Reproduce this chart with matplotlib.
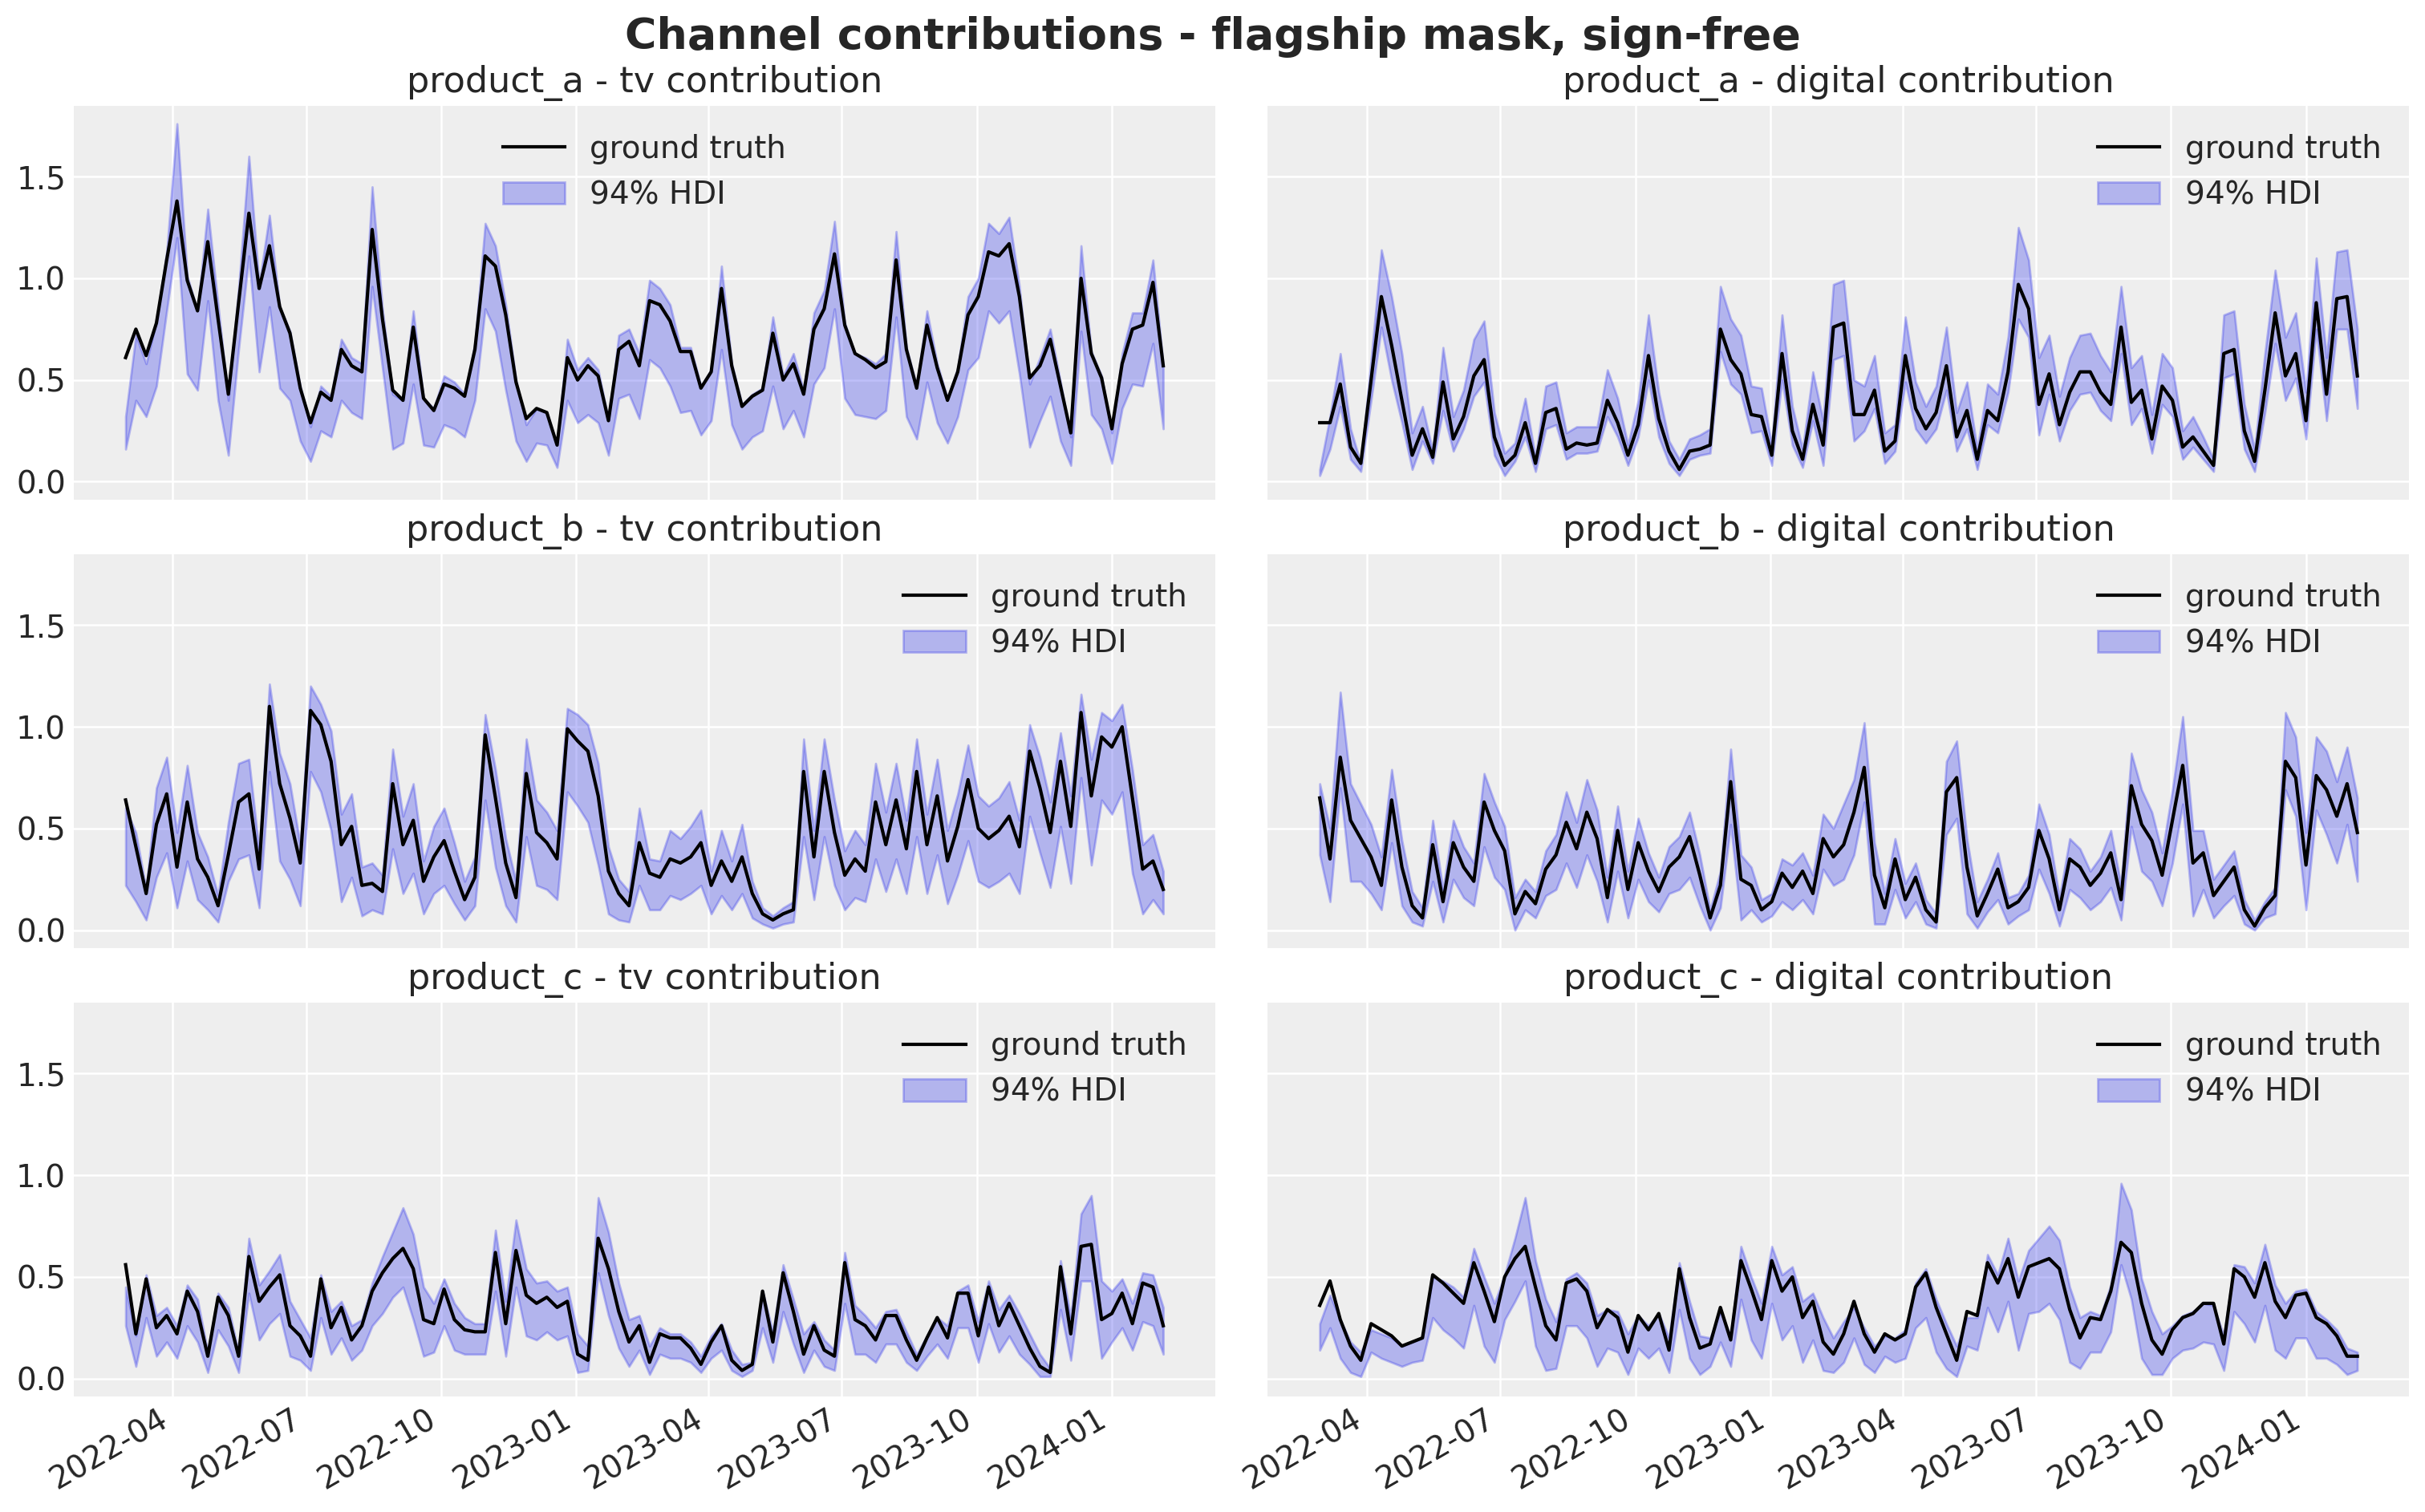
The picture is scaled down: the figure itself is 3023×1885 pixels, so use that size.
import numpy as np
import pandas as pd
import matplotlib
matplotlib.use("Agg")
import matplotlib.pyplot as plt
import matplotlib.dates as mdates

# weekly dates
dates = pd.date_range("2022-02-28", periods=102, freq="7D")

products = ["product_a", "product_b", "product_c"]
channels = ["tv", "digital"]

a_tv_truth = [0.61, 0.75, 0.62, 0.78, 1.09, 1.38, 0.99, 0.84, 1.18, 0.80,
              0.43, 0.88, 1.32, 0.95, 1.16, 0.86, 0.73, 0.46, 0.29, 0.44,
              0.40, 0.65, 0.57, 0.54, 1.24, 0.80, 0.45, 0.40, 0.76, 0.41,
              0.35, 0.48, 0.46, 0.42, 0.65, 1.11, 1.06, 0.82, 0.49, 0.31,
              0.36, 0.34, 0.18, 0.61, 0.50, 0.57, 0.52, 0.30, 0.65, 0.69,
              0.57, 0.89, 0.87, 0.79, 0.64, 0.64, 0.46, 0.54, 0.95, 0.57,
              0.37, 0.42, 0.45, 0.73, 0.50, 0.58, 0.43, 0.75, 0.85, 1.12,
              0.77, 0.63, 0.60, 0.56, 0.59, 1.09, 0.65, 0.46, 0.77, 0.56,
              0.40, 0.54, 0.82, 0.91, 1.13, 1.11, 1.17, 0.91, 0.51, 0.57,
              0.70, 0.47, 0.24, 1.00, 0.63, 0.51, 0.26, 0.58, 0.75, 0.77,
              0.98, 0.57]
a_tv_high = [0.32, 0.72, 0.58, 0.79, 1.13, 1.76, 1.01, 0.84, 1.34, 0.87,
             0.40, 0.95, 1.60, 0.97, 1.31, 0.86, 0.74, 0.47, 0.27, 0.47,
             0.42, 0.70, 0.61, 0.58, 1.45, 0.85, 0.43, 0.40, 0.84, 0.41,
             0.36, 0.52, 0.49, 0.43, 0.68, 1.27, 1.16, 0.87, 0.50, 0.28,
             0.36, 0.34, 0.18, 0.70, 0.55, 0.61, 0.55, 0.30, 0.72, 0.75,
             0.63, 0.99, 0.95, 0.87, 0.66, 0.66, 0.47, 0.55, 1.06, 0.58,
             0.38, 0.43, 0.46, 0.81, 0.52, 0.63, 0.45, 0.83, 0.94, 1.28,
             0.78, 0.63, 0.61, 0.58, 0.63, 1.23, 0.66, 0.47, 0.84, 0.58,
             0.41, 0.56, 0.91, 1.00, 1.27, 1.22, 1.30, 0.96, 0.48, 0.61,
             0.75, 0.49, 0.22, 1.16, 0.64, 0.52, 0.24, 0.63, 0.83, 0.83,
             1.09, 0.57]
a_tv_low = [0.16, 0.40, 0.32, 0.47, 0.84, 1.20, 0.53, 0.45, 0.89, 0.40,
            0.13, 0.65, 1.11, 0.54, 0.86, 0.46, 0.40, 0.20, 0.10, 0.25,
            0.22, 0.40, 0.34, 0.31, 0.96, 0.56, 0.16, 0.19, 0.48, 0.18,
            0.17, 0.28, 0.26, 0.22, 0.40, 0.85, 0.74, 0.45, 0.20, 0.10,
            0.19, 0.18, 0.07, 0.40, 0.29, 0.33, 0.29, 0.13, 0.41, 0.43,
            0.31, 0.60, 0.56, 0.47, 0.34, 0.35, 0.23, 0.30, 0.65, 0.28,
            0.16, 0.22, 0.25, 0.47, 0.26, 0.35, 0.22, 0.48, 0.56, 0.85,
            0.41, 0.33, 0.32, 0.31, 0.35, 0.81, 0.32, 0.21, 0.49, 0.29,
            0.19, 0.32, 0.55, 0.61, 0.84, 0.78, 0.84, 0.53, 0.17, 0.30,
            0.42, 0.20, 0.08, 0.74, 0.33, 0.26, 0.09, 0.36, 0.48, 0.47,
            0.68, 0.26]

a_dig_truth = [0.29, 0.29, 0.48, 0.17, 0.09, 0.50, 0.91, 0.67, 0.40, 0.13,
               0.26, 0.12, 0.49, 0.21, 0.32, 0.52, 0.60, 0.22, 0.08, 0.13,
               0.29, 0.09, 0.34, 0.36, 0.16, 0.19, 0.18, 0.19, 0.40, 0.29,
               0.13, 0.28, 0.62, 0.31, 0.15, 0.06, 0.15, 0.16, 0.18, 0.75,
               0.60, 0.53, 0.33, 0.32, 0.13, 0.63, 0.25, 0.11, 0.38, 0.18,
               0.76, 0.78, 0.33, 0.33, 0.45, 0.15, 0.20, 0.62, 0.36, 0.26,
               0.34, 0.57, 0.22, 0.35, 0.11, 0.35, 0.30, 0.54, 0.97, 0.85,
               0.38, 0.53, 0.28, 0.44, 0.54, 0.54, 0.44, 0.38, 0.76, 0.39,
               0.45, 0.21, 0.47, 0.40, 0.17, 0.22, 0.15, 0.08, 0.63, 0.65,
               0.25, 0.10, 0.45, 0.83, 0.52, 0.63, 0.30, 0.88, 0.43, 0.90,
               0.91, 0.52]
a_dig_high = [0.06, 0.32, 0.63, 0.26, 0.09, 0.60, 1.14, 0.91, 0.63, 0.24,
              0.37, 0.15, 0.66, 0.32, 0.45, 0.70, 0.79, 0.34, 0.14, 0.19,
              0.41, 0.12, 0.47, 0.49, 0.24, 0.27, 0.27, 0.27, 0.55, 0.41,
              0.18, 0.40, 0.82, 0.44, 0.20, 0.11, 0.21, 0.23, 0.26, 0.96,
              0.80, 0.72, 0.47, 0.46, 0.18, 0.82, 0.37, 0.16, 0.54, 0.30,
              0.97, 0.99, 0.50, 0.47, 0.62, 0.24, 0.28, 0.81, 0.49, 0.37,
              0.47, 0.76, 0.34, 0.49, 0.16, 0.48, 0.43, 0.71, 1.25, 1.09,
              0.61, 0.72, 0.42, 0.61, 0.72, 0.73, 0.62, 0.54, 0.96, 0.56,
              0.62, 0.33, 0.63, 0.56, 0.25, 0.32, 0.22, 0.11, 0.82, 0.84,
              0.38, 0.16, 0.63, 1.04, 0.71, 0.83, 0.44, 1.10, 0.61, 1.13,
              1.14, 0.75]
a_dig_low = [0.03, 0.16, 0.37, 0.11, 0.05, 0.40, 0.76, 0.50, 0.29, 0.06,
             0.20, 0.09, 0.35, 0.15, 0.26, 0.42, 0.49, 0.13, 0.03, 0.10,
             0.22, 0.05, 0.26, 0.28, 0.11, 0.14, 0.14, 0.15, 0.32, 0.22,
             0.08, 0.22, 0.50, 0.22, 0.09, 0.03, 0.11, 0.13, 0.14, 0.64,
             0.48, 0.43, 0.24, 0.25, 0.08, 0.50, 0.18, 0.07, 0.30, 0.08,
             0.60, 0.62, 0.20, 0.25, 0.36, 0.09, 0.15, 0.49, 0.26, 0.19,
             0.26, 0.45, 0.15, 0.26, 0.06, 0.28, 0.24, 0.44, 0.80, 0.71,
             0.23, 0.43, 0.20, 0.35, 0.43, 0.44, 0.35, 0.30, 0.63, 0.28,
             0.36, 0.14, 0.38, 0.32, 0.11, 0.17, 0.11, 0.05, 0.51, 0.53,
             0.16, 0.05, 0.34, 0.68, 0.40, 0.51, 0.21, 0.75, 0.30, 0.75,
             0.75, 0.36]

b_tv_truth = [0.64, 0.41, 0.18, 0.52, 0.67, 0.31, 0.63, 0.35, 0.26, 0.12,
              0.37, 0.63, 0.67, 0.30, 1.10, 0.72, 0.55, 0.33, 1.08, 1.01,
              0.83, 0.42, 0.51, 0.22, 0.23, 0.19, 0.72, 0.42, 0.54, 0.24,
              0.36, 0.44, 0.29, 0.15, 0.26, 0.96, 0.65, 0.33, 0.16, 0.77,
              0.48, 0.43, 0.35, 0.99, 0.93, 0.88, 0.66, 0.29, 0.18, 0.12,
              0.43, 0.28, 0.26, 0.35, 0.33, 0.36, 0.43, 0.22, 0.34, 0.24,
              0.36, 0.18, 0.08, 0.05, 0.08, 0.10, 0.78, 0.36, 0.78, 0.48,
              0.27, 0.35, 0.29, 0.63, 0.42, 0.64, 0.40, 0.78, 0.42, 0.66,
              0.34, 0.51, 0.74, 0.50, 0.45, 0.49, 0.56, 0.41, 0.88, 0.70,
              0.48, 0.83, 0.51, 1.07, 0.66, 0.95, 0.90, 1.00, 0.65, 0.30,
              0.34, 0.20]
b_tv_high = [0.60, 0.48, 0.20, 0.70, 0.85, 0.48, 0.81, 0.48, 0.36, 0.17,
             0.53, 0.82, 0.84, 0.39, 1.21, 0.87, 0.72, 0.42, 1.20, 1.11,
             0.98, 0.57, 0.67, 0.31, 0.33, 0.27, 0.89, 0.56, 0.72, 0.34,
             0.51, 0.60, 0.43, 0.24, 0.36, 1.06, 0.79, 0.45, 0.24, 0.94,
             0.64, 0.58, 0.49, 1.09, 1.06, 1.01, 0.82, 0.41, 0.25, 0.19,
             0.60, 0.35, 0.34, 0.49, 0.45, 0.51, 0.59, 0.29, 0.49, 0.34,
             0.52, 0.24, 0.11, 0.07, 0.11, 0.14, 0.94, 0.49, 0.94, 0.64,
             0.39, 0.49, 0.42, 0.82, 0.58, 0.82, 0.54, 0.94, 0.57, 0.84,
             0.49, 0.67, 0.91, 0.66, 0.61, 0.65, 0.73, 0.54, 1.01, 0.85,
             0.63, 0.97, 0.66, 1.16, 0.84, 1.07, 1.03, 1.11, 0.79, 0.42,
             0.47, 0.29]
b_tv_low = [0.22, 0.14, 0.05, 0.26, 0.38, 0.11, 0.34, 0.15, 0.10, 0.04,
            0.24, 0.35, 0.37, 0.11, 0.78, 0.34, 0.25, 0.12, 0.78, 0.68,
            0.49, 0.14, 0.26, 0.07, 0.10, 0.08, 0.40, 0.18, 0.28, 0.08,
            0.18, 0.22, 0.13, 0.05, 0.12, 0.64, 0.31, 0.12, 0.04, 0.46,
            0.22, 0.20, 0.15, 0.68, 0.61, 0.53, 0.32, 0.08, 0.05, 0.04,
            0.22, 0.10, 0.10, 0.17, 0.15, 0.18, 0.22, 0.08, 0.17, 0.10,
            0.18, 0.06, 0.03, 0.01, 0.03, 0.04, 0.46, 0.15, 0.46, 0.22,
            0.10, 0.16, 0.14, 0.35, 0.19, 0.35, 0.18, 0.46, 0.18, 0.37,
            0.13, 0.27, 0.44, 0.24, 0.21, 0.24, 0.28, 0.18, 0.56, 0.38,
            0.21, 0.51, 0.23, 0.75, 0.32, 0.64, 0.57, 0.68, 0.28, 0.08,
            0.15, 0.08]

b_dig_truth = [0.65, 0.35, 0.85, 0.54, 0.45, 0.36, 0.22, 0.64, 0.31, 0.12,
               0.06, 0.42, 0.14, 0.43, 0.31, 0.24, 0.63, 0.49, 0.39, 0.08,
               0.19, 0.13, 0.30, 0.37, 0.53, 0.40, 0.58, 0.45, 0.16, 0.49,
               0.20, 0.43, 0.29, 0.19, 0.31, 0.36, 0.46, 0.27, 0.06, 0.22,
               0.73, 0.25, 0.22, 0.10, 0.14, 0.28, 0.21, 0.29, 0.18, 0.45,
               0.36, 0.42, 0.58, 0.80, 0.27, 0.11, 0.35, 0.15, 0.26, 0.10,
               0.04, 0.68, 0.75, 0.31, 0.07, 0.18, 0.30, 0.11, 0.14, 0.21,
               0.49, 0.35, 0.10, 0.35, 0.31, 0.22, 0.28, 0.38, 0.15, 0.71,
               0.52, 0.44, 0.27, 0.54, 0.81, 0.33, 0.38, 0.17, 0.24, 0.31,
               0.10, 0.02, 0.11, 0.17, 0.83, 0.75, 0.32, 0.76, 0.69, 0.56,
               0.72, 0.48]
b_dig_high = [0.72, 0.50, 1.17, 0.72, 0.62, 0.52, 0.36, 0.79, 0.44, 0.19,
              0.11, 0.54, 0.20, 0.54, 0.41, 0.33, 0.77, 0.63, 0.51, 0.16,
              0.25, 0.19, 0.39, 0.47, 0.68, 0.53, 0.74, 0.59, 0.26, 0.61,
              0.29, 0.55, 0.38, 0.26, 0.41, 0.46, 0.58, 0.37, 0.10, 0.29,
              0.89, 0.37, 0.31, 0.15, 0.18, 0.35, 0.32, 0.38, 0.27, 0.57,
              0.50, 0.62, 0.74, 1.02, 0.43, 0.18, 0.45, 0.23, 0.33, 0.15,
              0.08, 0.83, 0.93, 0.45, 0.14, 0.25, 0.38, 0.16, 0.18, 0.27,
              0.62, 0.47, 0.16, 0.45, 0.40, 0.29, 0.36, 0.49, 0.22, 0.87,
              0.69, 0.58, 0.38, 0.69, 1.05, 0.49, 0.49, 0.25, 0.32, 0.39,
              0.15, 0.05, 0.14, 0.21, 1.07, 0.95, 0.48, 0.95, 0.88, 0.73,
              0.90, 0.65]
b_dig_low = [0.37, 0.14, 0.70, 0.24, 0.24, 0.18, 0.10, 0.43, 0.12, 0.04,
             0.02, 0.24, 0.04, 0.25, 0.16, 0.12, 0.41, 0.26, 0.20, 0.00,
             0.10, 0.06, 0.17, 0.20, 0.33, 0.21, 0.37, 0.24, 0.04, 0.29,
             0.06, 0.25, 0.14, 0.09, 0.18, 0.20, 0.26, 0.12, 0.00, 0.11,
             0.52, 0.05, 0.10, 0.04, 0.07, 0.14, 0.10, 0.15, 0.08, 0.30,
             0.22, 0.25, 0.37, 0.63, 0.03, 0.03, 0.20, 0.06, 0.14, 0.03,
             0.01, 0.47, 0.55, 0.08, 0.01, 0.09, 0.15, 0.03, 0.07, 0.10,
             0.30, 0.18, 0.02, 0.20, 0.16, 0.10, 0.14, 0.21, 0.05, 0.51,
             0.29, 0.24, 0.12, 0.33, 0.62, 0.07, 0.20, 0.06, 0.12, 0.17,
             0.03, 0.00, 0.06, 0.08, 0.69, 0.56, 0.10, 0.59, 0.47, 0.33,
             0.52, 0.24]

c_tv_truth = [0.56, 0.22, 0.49, 0.25, 0.31, 0.22, 0.43, 0.33, 0.11, 0.40,
              0.31, 0.11, 0.60, 0.38, 0.45, 0.51, 0.26, 0.21, 0.11, 0.49,
              0.25, 0.35, 0.19, 0.26, 0.43, 0.52, 0.59, 0.64, 0.54, 0.29,
              0.27, 0.44, 0.29, 0.24, 0.23, 0.23, 0.62, 0.27, 0.63, 0.41,
              0.37, 0.40, 0.35, 0.38, 0.12, 0.09, 0.69, 0.54, 0.33, 0.18,
              0.26, 0.08, 0.22, 0.20, 0.20, 0.15, 0.07, 0.18, 0.26, 0.09,
              0.04, 0.07, 0.43, 0.18, 0.52, 0.33, 0.12, 0.26, 0.14, 0.11,
              0.57, 0.29, 0.26, 0.19, 0.31, 0.31, 0.19, 0.09, 0.20, 0.30,
              0.20, 0.42, 0.42, 0.21, 0.45, 0.26, 0.37, 0.26, 0.15, 0.06,
              0.03, 0.55, 0.22, 0.65, 0.66, 0.29, 0.32, 0.42, 0.27, 0.47,
              0.45, 0.26]
c_tv_high = [0.45, 0.21, 0.51, 0.31, 0.35, 0.26, 0.46, 0.39, 0.13, 0.42,
             0.35, 0.13, 0.69, 0.46, 0.53, 0.61, 0.38, 0.29, 0.20, 0.51,
             0.33, 0.38, 0.26, 0.29, 0.47, 0.60, 0.72, 0.84, 0.71, 0.45,
             0.37, 0.49, 0.37, 0.30, 0.27, 0.27, 0.73, 0.38, 0.78, 0.54,
             0.47, 0.48, 0.43, 0.45, 0.22, 0.16, 0.89, 0.72, 0.47, 0.29,
             0.31, 0.16, 0.25, 0.22, 0.22, 0.18, 0.11, 0.21, 0.27, 0.14,
             0.07, 0.08, 0.43, 0.23, 0.56, 0.39, 0.22, 0.28, 0.19, 0.14,
             0.62, 0.36, 0.31, 0.25, 0.33, 0.34, 0.23, 0.12, 0.21, 0.30,
             0.26, 0.43, 0.46, 0.28, 0.48, 0.34, 0.41, 0.32, 0.22, 0.12,
             0.05, 0.58, 0.30, 0.81, 0.90, 0.48, 0.43, 0.49, 0.37, 0.52,
             0.51, 0.35]
c_tv_low = [0.26, 0.06, 0.30, 0.11, 0.18, 0.10, 0.26, 0.18, 0.03, 0.24,
            0.16, 0.03, 0.42, 0.19, 0.27, 0.32, 0.11, 0.09, 0.04, 0.30,
            0.12, 0.20, 0.09, 0.14, 0.26, 0.32, 0.40, 0.45, 0.29, 0.11,
            0.13, 0.26, 0.14, 0.12, 0.12, 0.12, 0.43, 0.11, 0.45, 0.21,
            0.19, 0.23, 0.19, 0.21, 0.03, 0.04, 0.52, 0.31, 0.15, 0.06,
            0.14, 0.02, 0.12, 0.10, 0.10, 0.08, 0.03, 0.10, 0.14, 0.04,
            0.01, 0.04, 0.25, 0.08, 0.33, 0.17, 0.03, 0.14, 0.06, 0.04,
            0.37, 0.12, 0.12, 0.08, 0.17, 0.17, 0.08, 0.04, 0.11, 0.17,
            0.10, 0.25, 0.25, 0.08, 0.27, 0.13, 0.21, 0.12, 0.07, 0.01,
            0.01, 0.34, 0.09, 0.48, 0.48, 0.10, 0.18, 0.25, 0.14, 0.28,
            0.26, 0.12]

c_dig_truth = [0.36, 0.48, 0.29, 0.16, 0.09, 0.27, 0.24, 0.21, 0.16, 0.18,
               0.20, 0.51, 0.47, 0.42, 0.37, 0.57, 0.43, 0.28, 0.50, 0.59,
               0.65, 0.45, 0.26, 0.19, 0.47, 0.49, 0.43, 0.25, 0.34, 0.30,
               0.13, 0.31, 0.24, 0.32, 0.14, 0.54, 0.30, 0.15, 0.17, 0.35,
               0.19, 0.58, 0.44, 0.29, 0.58, 0.43, 0.50, 0.30, 0.38, 0.18,
               0.12, 0.22, 0.38, 0.22, 0.13, 0.22, 0.19, 0.22, 0.45, 0.52,
               0.35, 0.22, 0.09, 0.33, 0.31, 0.57, 0.47, 0.59, 0.40, 0.55,
               0.57, 0.59, 0.54, 0.34, 0.20, 0.30, 0.29, 0.43, 0.67, 0.62,
               0.37, 0.19, 0.12, 0.24, 0.30, 0.32, 0.37, 0.37, 0.17, 0.54,
               0.50, 0.40, 0.57, 0.38, 0.30, 0.41, 0.42, 0.30, 0.27, 0.21,
               0.11, 0.11]
c_dig_high = [0.27, 0.41, 0.29, 0.18, 0.13, 0.24, 0.22, 0.20, 0.16, 0.18,
              0.20, 0.50, 0.48, 0.45, 0.40, 0.64, 0.50, 0.37, 0.51, 0.69,
              0.89, 0.58, 0.39, 0.28, 0.49, 0.52, 0.47, 0.31, 0.34, 0.33,
              0.22, 0.31, 0.26, 0.32, 0.20, 0.57, 0.38, 0.21, 0.20, 0.33,
              0.21, 0.65, 0.50, 0.37, 0.65, 0.51, 0.55, 0.38, 0.42, 0.30,
              0.20, 0.28, 0.35, 0.25, 0.16, 0.21, 0.20, 0.24, 0.47, 0.54,
              0.39, 0.27, 0.16, 0.30, 0.30, 0.61, 0.51, 0.69, 0.48, 0.63,
              0.69, 0.75, 0.68, 0.45, 0.30, 0.33, 0.31, 0.46, 0.96, 0.83,
              0.49, 0.33, 0.22, 0.26, 0.31, 0.33, 0.37, 0.36, 0.21, 0.56,
              0.55, 0.47, 0.66, 0.46, 0.37, 0.43, 0.44, 0.33, 0.29, 0.24,
              0.15, 0.13]
c_dig_low = [0.14, 0.25, 0.10, 0.03, 0.01, 0.13, 0.10, 0.08, 0.06, 0.08,
             0.09, 0.30, 0.24, 0.20, 0.15, 0.36, 0.16, 0.08, 0.29, 0.38,
             0.48, 0.16, 0.04, 0.05, 0.26, 0.26, 0.20, 0.06, 0.15, 0.13,
             0.02, 0.15, 0.10, 0.15, 0.03, 0.34, 0.10, 0.02, 0.06, 0.18,
             0.06, 0.39, 0.19, 0.10, 0.37, 0.19, 0.26, 0.08, 0.19, 0.04,
             0.03, 0.08, 0.20, 0.07, 0.03, 0.11, 0.08, 0.10, 0.25, 0.30,
             0.13, 0.05, 0.01, 0.16, 0.14, 0.35, 0.23, 0.38, 0.14, 0.32,
             0.33, 0.37, 0.29, 0.08, 0.05, 0.13, 0.13, 0.23, 0.56, 0.39,
             0.10, 0.02, 0.02, 0.10, 0.14, 0.15, 0.18, 0.17, 0.04, 0.33,
             0.27, 0.18, 0.36, 0.14, 0.10, 0.20, 0.20, 0.10, 0.10, 0.07,
             0.02, 0.04]

panels = [
    (a_tv_truth, a_tv_low, a_tv_high), (a_dig_truth, a_dig_low, a_dig_high),
    (b_tv_truth, b_tv_low, b_tv_high), (b_dig_truth, b_dig_low, b_dig_high),
    (c_tv_truth, c_tv_low, c_tv_high), (c_dig_truth, c_dig_low, c_dig_high),
]


def set_style():
    plt.rcParams.update({
        "font.family": ["DejaVu Sans"],
        "axes.facecolor": "#eeeeee",
        "axes.edgecolor": "white",
        "axes.linewidth": 0,
        "axes.grid": True,
        "grid.color": "white",
        "grid.linestyle": "-",
        "grid.linewidth": 0.9,
        "axes.axisbelow": True,
        "xtick.major.size": 0,
        "ytick.major.size": 0,
        "xtick.color": "0.15",
        "ytick.color": "0.15",
        "text.color": "0.15",
        "xtick.labelsize": 14,
        "ytick.labelsize": 14,
        "axes.titlesize": 16,
        "legend.fontsize": 14,
        "legend.frameon": False,
    })


def plot_graph():
    fig, axes = plt.subplots(3, 2, figsize=(15.115, 9.425), dpi=200,
                             sharex=True, sharey=True)
    for k, (truth, low, high) in enumerate(panels):
        ax = axes[k // 2, k % 2]
        prod = products[k // 2]
        chan = channels[k % 2]
        ax.plot(dates, truth, color="black", lw=1.5, label="ground truth")
        ax.fill_between(dates, low, high, color="#2a2eec", alpha=0.3,
                        label="94% HDI")
        ax.set_title(f"{prod} - {chan} contribution")
        ax.legend(loc="upper center" if k == 0 else "upper right")
        ax.xaxis.set_major_locator(mdates.MonthLocator(bymonth=[1, 4, 7, 10]))
        ax.xaxis.set_major_formatter(mdates.DateFormatter("%Y-%m"))
    fig.autofmt_xdate()
    fig.subplots_adjust(left=0.0304, right=0.9935, top=0.930, bottom=0.0764,
                        wspace=0.0462, hspace=0.139)
    fig.suptitle("Channel contributions - flagship mask, sign-free",
                 fontsize=19.4, fontweight="bold", y=0.9894, va="top")
    fig.savefig("out.png", dpi=200, facecolor="white")


def main():
    set_style()
    plot_graph()


if __name__ == "__main__":
    main()
